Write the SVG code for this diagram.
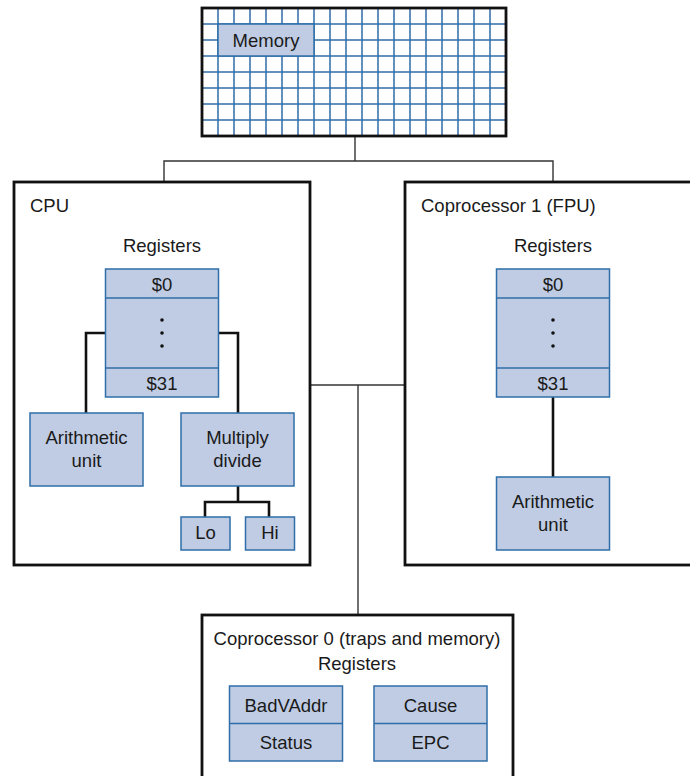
<svg xmlns="http://www.w3.org/2000/svg" width="690" height="776" viewBox="0 0 690 776">
<style>
text{font-family:"Liberation Sans",Arial,sans-serif;font-size:18.5px;fill:#1a1a1a}
.c{text-anchor:middle}
.box{fill:#fff;stroke:#111;stroke-width:2.8}
.reg{fill:#bfcce4;stroke:#2f6ea8;stroke-width:1.5}
.grid{stroke:#2f6ea8;stroke-width:1.5}
.bus{fill:none;stroke:#333;stroke-width:1.4}
.wire{fill:none;stroke:#111;stroke-width:2.6}
</style>
<rect width="690" height="776" fill="#fff"/>
<g id="connectors">
<polyline class="bus" points="355,136 355,161"/>
<polyline class="bus" points="164,182 164,161 553,161 553,182"/>
<polyline class="bus" points="310,385 405,385"/>
<polyline class="bus" points="358,385 358,615"/>
</g>
<g id="memory">
<rect x="202" y="8" width="304" height="128" fill="#fff"/>
<g class="grid">
<path d="M218,8V136M234,8V136M250,8V136M266,8V136M282,8V136M298,8V136M314,8V136M330,8V136M346,8V136M362,8V136M378,8V136M394,8V136M410,8V136M426,8V136M442,8V136M458,8V136M474,8V136M490,8V136"/>
<path d="M202,24H506M202,40H506M202,56H506M202,72H506M202,88H506M202,104H506M202,120H506"/>
</g>
<rect x="202" y="8" width="304" height="128" fill="none" stroke="#111" stroke-width="2.8"/>
<rect class="reg" x="218" y="24" width="96" height="32"/>
<text class="c" x="266" y="47">Memory</text>
</g>
<g id="cpu">
<rect class="box" x="14" y="182" width="296" height="383"/>
<text x="30" y="212">CPU</text>
<text class="c" x="162" y="252">Registers</text>
<g class="wire">
<polyline points="106,333 86,333 86,413"/>
<polyline points="218,333 238,333 238,413"/>
<polyline points="238,486 238,502"/>
<polyline points="205,517 205,502 269,502 269,517"/>
</g>
<g id="cpu-registers">
<rect class="reg" x="105.5" y="269" width="113" height="128"/>
<line class="grid" x1="105.5" y1="298" x2="218.5" y2="298"/>
<line class="grid" x1="105.5" y1="368" x2="218.5" y2="368"/>
<text class="c" x="162" y="291">$0</text>
<circle cx="162" cy="320" r="1.8" fill="#111"/>
<circle cx="162" cy="333" r="1.8" fill="#111"/>
<circle cx="162" cy="346" r="1.8" fill="#111"/>
<text class="c" x="162" y="390">$31</text>
</g>
<g id="cpu-alu">
<rect class="reg" x="30" y="413" width="113" height="73"/>
<text class="c" x="86.5" y="444">Arithmetic</text>
<text class="c" x="86.5" y="467">unit</text>
</g>
<g id="muldiv">
<rect class="reg" x="181" y="413" width="113" height="73"/>
<text class="c" x="237.5" y="444">Multiply</text>
<text class="c" x="237.5" y="467">divide</text>
</g>
<g id="lo">
<rect class="reg" x="181" y="517" width="49" height="33"/>
<text class="c" x="205.5" y="539">Lo</text>
</g>
<g id="hi">
<rect class="reg" x="245.5" y="517" width="49" height="33"/>
<text class="c" x="270" y="539">Hi</text>
</g>
</g>
<g id="fpu">
<rect class="box" x="405" y="182" width="300" height="383"/>
<text x="421" y="212">Coprocessor 1 (FPU)</text>
<text class="c" x="553" y="252">Registers</text>
<polyline class="wire" points="553,397 553,477"/>
<g id="fpu-registers">
<rect class="reg" x="496.5" y="269" width="113" height="128"/>
<line class="grid" x1="496.5" y1="298" x2="609.5" y2="298"/>
<line class="grid" x1="496.5" y1="368" x2="609.5" y2="368"/>
<text class="c" x="553" y="291">$0</text>
<circle cx="553" cy="320" r="1.8" fill="#111"/>
<circle cx="553" cy="333" r="1.8" fill="#111"/>
<circle cx="553" cy="346" r="1.8" fill="#111"/>
<text class="c" x="553" y="390">$31</text>
</g>
<g id="fpu-alu">
<rect class="reg" x="496.5" y="477" width="113" height="73"/>
<text class="c" x="553" y="508">Arithmetic</text>
<text class="c" x="553" y="531">unit</text>
</g>
</g>
<g id="cop0">
<rect class="box" x="202" y="615" width="311" height="175"/>
<text class="c" x="357" y="645">Coprocessor 0 (traps and memory)</text>
<text class="c" x="357" y="670">Registers</text>
<g id="badvaddr-status">
<rect class="reg" x="229.5" y="686" width="113" height="75"/>
<line class="grid" x1="229.5" y1="723.5" x2="342.5" y2="723.5"/>
<text class="c" x="286" y="712">BadVAddr</text>
<text class="c" x="286" y="749">Status</text>
</g>
<g id="cause-epc">
<rect class="reg" x="374" y="686" width="113" height="75"/>
<line class="grid" x1="374" y1="723.5" x2="487" y2="723.5"/>
<text class="c" x="430.5" y="712">Cause</text>
<text class="c" x="430.5" y="749">EPC</text>
</g>
</g>
</svg>
